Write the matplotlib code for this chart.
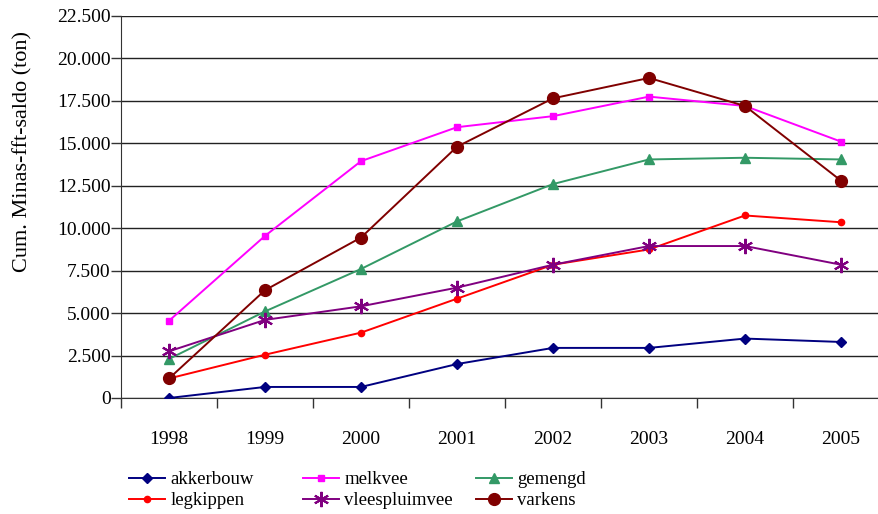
import numpy as np
import matplotlib.pyplot as plt
from matplotlib.ticker import FuncFormatter

plt.rcParams['font.family'] = ['Liberation Serif', 'DejaVu Serif']

years = ['1998', '1999', '2000', '2001', '2002', '2003', '2004', '2005']

akkerbouw = [0, 650, 650, 2000, 2950, 2950, 3500, 3300]
melkvee = [4550, 9550, 13950, 15950, 16600, 17750, 17200, 15100]
gemengd = [2300, 5100, 7600, 10400, 12600, 14050, 14150, 14050]
legkippen = [1150, 2550, 3850, 5850, 7850, 8750, 10750, 10350]
vleespluimvee = [2750, 4600, 5400, 6500, 7850, 8950, 8950, 7850]
varkens = [1150, 6350, 9450, 14800, 17650, 18850, 17200, 12800]

fig = plt.figure(figsize=(8.79, 5.14), dpi=100)
ax = fig.add_axes([0.1377, 0.2257, 0.8623, 0.7432])

x = np.arange(len(years))
lw = 1.4
series = [
    ('akkerbouw', akkerbouw, '#000080', 'D', 5, 1),
    ('melkvee', melkvee, '#FF00FF', 's', 5, 1),
    ('gemengd', gemengd, '#339966', '^', 6.5, 1),
    ('legkippen', legkippen, '#FF0000', 'o', 4.5, 1),
    ('vleespluimvee', vleespluimvee, '#800080', (6, 2, 0), 11, 1.5),
    ('varkens', varkens, '#800000', 'o', 8.5, 1),
]
handles = {}
for name, vals, col, mk, ms, mew in series:
    h, = ax.plot(x, vals, color=col, lw=lw, marker=mk, ms=ms,
                 mfc=col, mec=col, mew=mew, label=name, zorder=3)
    handles[name] = h

ax.set_ylim(0, 22500)
ax.set_yticks(np.arange(0, 22501, 2500))
ax.yaxis.set_major_formatter(FuncFormatter(lambda v, p: f'{int(v):,}'.replace(',', '.')))

# category ticks sit between the years, labels under the points
ax.set_xticks(np.arange(-0.5, 8, 1))
ax.set_xticklabels([])
ax.set_xticks(x, minor=True)
ax.set_xticklabels(years, minor=True)
ax.set_xlim(-0.5, -0.5 + 758 / 96)
ax.tick_params(axis='x', which='major', direction='out', length=7, width=1, color='#333333')
ax.tick_params(axis='x', which='minor', length=0, pad=24, labelsize=14)
ax.tick_params(axis='y', direction='out', length=7, width=1, color='#333333', labelsize=14, pad=0.5)

ax.grid(axis='y', color='#222222', lw=1)
for s in ['top', 'right']:
    ax.spines[s].set_visible(False)
ax.spines['left'].set_color('#333333')
ax.spines['bottom'].set_color('#333333')

ax.set_ylabel('Cum. Minas-fft-saldo (ton)', fontsize=16)
ax.yaxis.set_label_coords(-0.117, 0.644)

# three legend columns, two rows each
cols = [['akkerbouw', 'legkippen'], ['melkvee', 'vleespluimvee'], ['gemengd', 'varkens']]
xpos = [0.1468, 0.3447, 0.5415]
for names, xp in zip(cols, xpos):
    leg = fig.legend([handles[n] for n in names], names, loc='upper left',
                     bbox_to_anchor=(xp, 0.083), frameon=False, fontsize=13.5,
                     handlelength=1.9, handletextpad=0.3, labelspacing=0.2,
                     borderpad=0, borderaxespad=0)

fig.savefig('out.png', dpi=100)
